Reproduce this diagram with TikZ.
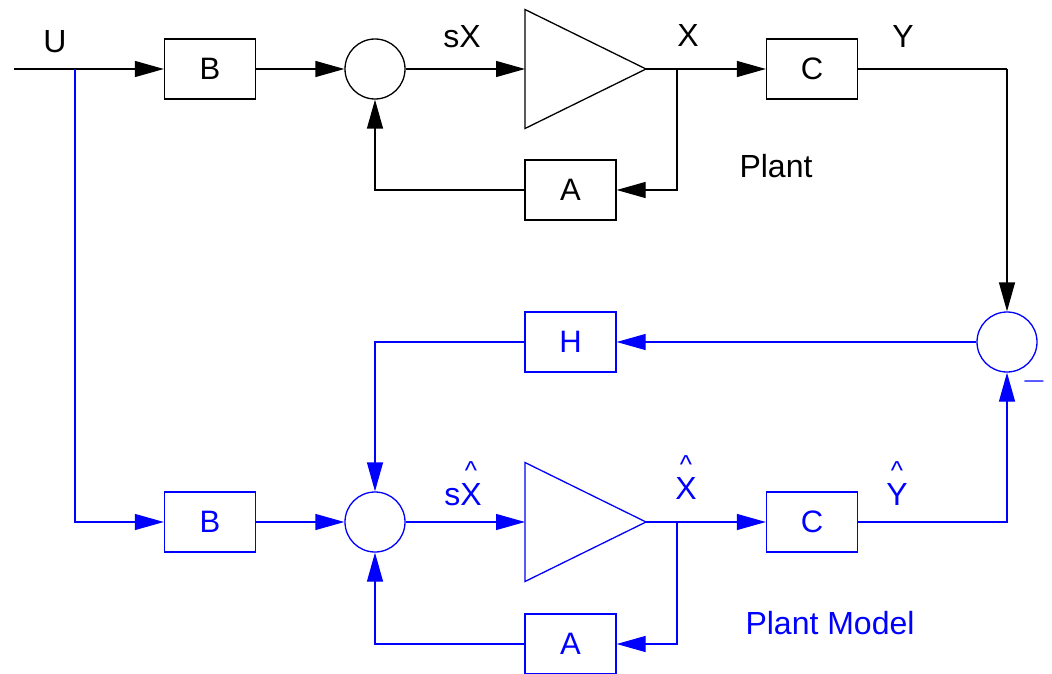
\documentclass[tikz,border=0pt]{standalone}
\usepackage{fontspec}
\setmainfont{Liberation Sans}
\usetikzlibrary{arrows.meta}
\definecolor{mblue}{RGB}{0,0,255}
\newcommand\hatted[1]{\shortstack{{\fontsize{26}{26}\selectfont\textasciicircum}\\#1}}
\begin{document}
\begin{tikzpicture}[x=1pt,y=-1pt,
  line width=1.3pt,
  blk/.style={draw, minimum width=91pt, minimum height=60pt, inner sep=0pt, font=\fontsize{31}{31}\selectfont},
  sum/.style={draw, circle, minimum size=60pt, inner sep=0pt},
  lbl/.style={font=\fontsize{32}{32}\selectfont, inner sep=0pt, anchor=base},
  arr/.style={-{Triangle[length=29pt,width=16pt]}},
  mdl/.style={mblue, text=mblue}]
\useasboundingbox (0,0) rectangle (1052,674);
\clip (0,0) rectangle (1052,673);

% ---------- Plant ----------
\coordinate (uin) at (14,69);
\coordinate (usplit) at (75,69);
\node[blk] (B1) at (210,69) {B};
\node[sum] (S1) at (375,69) {};
\coordinate (T1in) at (525,69);
\coordinate (T1out) at (646,69);
\coordinate (x1split) at (677,69);
\node[blk] (C1) at (812,69) {C};
\coordinate (ycorner) at (1007,69);
\node[blk] (A1) at (570.5,190) {A};

\draw ([yshift=59.5pt]T1in) -- (T1out) -- ([yshift=-59.5pt]T1in) -- cycle;

\draw (uin) -- (usplit);
\draw[arr] (usplit) -- (B1);
\draw[arr] (B1) -- (S1);
\draw[arr] (S1) -- (T1in);
\draw (T1out) -- (x1split);
\draw[arr] (x1split) -- (C1);
\draw[arr] (x1split) |- (A1);
\draw[arr] (A1) -| (S1);
\draw (C1) -- (ycorner);

% ---------- Observer ----------
\node[sum,mdl] (S2) at (1007,342) {};
\node[blk,mdl] (H) at (570.5,342) {H};
\node[blk,mdl] (B2) at (210,522) {B};
\node[sum,mdl] (S3) at (375,522) {};
\coordinate (T2in) at (525,522);
\coordinate (T2out) at (646,522);
\coordinate (x2split) at (677,522);
\node[blk,mdl] (C2) at (812,522) {C};
\node[blk,mdl] (A2) at (570.5,644) {A};

\draw[mdl] ([yshift=59.5pt]T2in) -- (T2out) -- ([yshift=-59.5pt]T2in) -- cycle;

\draw[arr] (ycorner) -- (S2);
\draw[mdl,arr] (S2) -- (H);
\draw[mdl,arr] (H) -| (S3);
\draw[mdl,arr] (usplit) |- (B2);
\draw[mdl,arr] (B2) -- (S3);
\draw[mdl,arr] (S3) -- (T2in);
\draw[mdl] (T2out) -- (x2split);
\draw[mdl,arr] (x2split) -- (C2);
\draw[mdl,arr] (x2split) |- (A2);
\draw[mdl,arr] (A2) -| (S3);
\draw[mdl,arr] (C2) -| (S2);

% ---------- Labels ----------
\node[lbl] (lu) at (55,53) {U};
\node[lbl] (lsx) at (462,48) {sX};
\node[lbl] (lx) at (688,47) {X};
\node[lbl] (ly) at (903,48) {Y};
\node[lbl] (lplant) at (776,177) {Plant};
\node[mdl,inner sep=0pt] (lminus) at (1034,384) {\scalebox{1.3}[0.6]{\fontsize{30}{30}\selectfont −}};
\node[lbl,mdl] (lsxh) at (463,505) {s\hatted{X}};
\node[lbl,mdl] (lxh) at (686,499) {\hatted{X}};
\node[lbl,mdl] (lyh) at (897,505) {\hatted{Y}};
\node[lbl,mdl] (lmodel) at (830,634) {Plant Model};
\end{tikzpicture}
\end{document}
